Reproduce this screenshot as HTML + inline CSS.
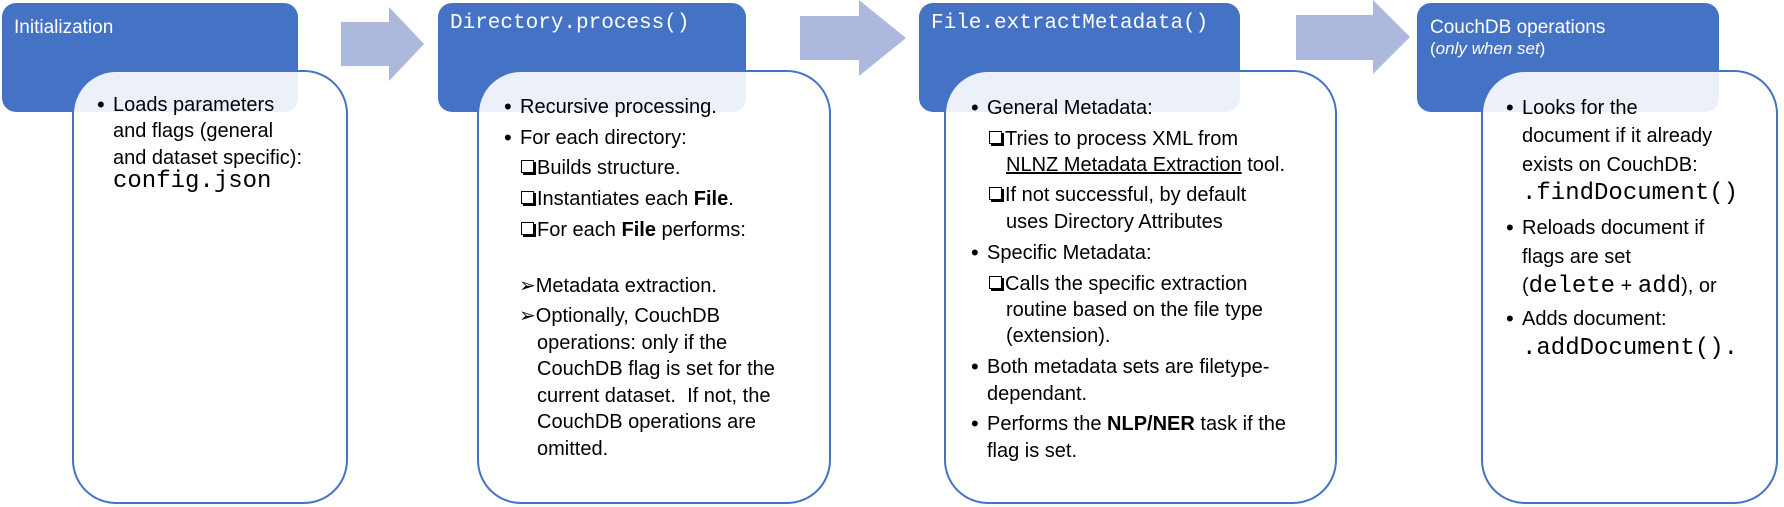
<!DOCTYPE html>
<html><head><meta charset="utf-8"><style>
body{margin:0;width:1784px;height:507px;background:#fff;position:relative;overflow:hidden;font-family:"Liberation Sans",sans-serif;}
.hd{position:absolute;top:3px;height:109px;background:#4472c4;border-radius:14px;}
.ht{position:absolute;color:#fff;font-size:18px;white-space:nowrap;}
.mono{font-family:"Liberation Mono",monospace;}
.ht.mono{font-size:21px;}
.l.mono,.l .mono{font-size:24px;}
.bx{position:absolute;top:70px;height:430px;border:2px solid #4472c4;border-radius:44px;background:rgba(255,255,255,0.9);}
.l{position:absolute;font-size:20px;line-height:24px;white-space:nowrap;color:#000;}
.b{position:absolute;font-size:22px;line-height:24px;}
.cb{display:inline-block;width:11px;height:11px;border:1.5px solid #000;box-shadow:2px 2px 0 #000;margin-right:3px;vertical-align:1px;}
svg{position:absolute;left:0;top:0}
</style></head><body>
<svg width="1784" height="507">
<polygon points="341,22 389,22 389,7 424,44 389,81 389,66 341,66" fill="#adb9dc"/>
<polygon points="800,16 859,16 859,0 906,38 859,76 859,60 800,60" fill="#adb9dc"/>
<polygon points="1296,15 1373,15 1373,0 1410,37 1373,74 1373,60 1296,60" fill="#adb9dc"/>
</svg>

<div class="hd" style="left:2px;width:296px"></div>
<div class="ht" style="left:14px;top:17px;font-size:19px">Initialization</div>
<div class="hd" style="left:438px;width:308px"></div>
<div class="ht mono" style="left:450px;top:12px">Directory.process()</div>
<div class="hd" style="left:919px;width:321px"></div>
<div class="ht mono" style="left:931px;top:12px">File.extractMetadata()</div>
<div class="hd" style="left:1417px;width:302px"></div>
<div class="ht" style="left:1430px;top:17px;font-size:19px;line-height:21px">CouchDB operations<br><span style="font-size:17px">(<i>only when set</i>)</span></div>

<div class="bx" style="left:72px;width:272px"></div>
<div class="bx" style="left:477px;width:350px"></div>
<div class="bx" style="left:944px;width:389px"></div>
<div class="bx" style="left:1481px;width:293px"></div>

<!-- block1 -->
<div class="b" style="left:97px;top:93px">•</div>
<div class="l" style="left:113px;top:93px">Loads parameters</div>
<div class="l" style="left:113px;top:119px">and flags (general</div>
<div class="l" style="left:113px;top:146px">and dataset specific):</div>
<div class="l mono" style="left:113px;top:170px">config.json</div>

<!-- block2 -->
<div class="b" style="left:504px;top:95px">•</div>
<div class="l" style="left:520px;top:95px">Recursive processing.</div>
<div class="b" style="left:504px;top:126px">•</div>
<div class="l" style="left:520px;top:126px">For each directory:</div>
<div class="l" style="left:521px;top:156px"><span class="cb"></span>Builds structure.</div>
<div class="l" style="left:521px;top:187px"><span class="cb"></span>Instantiates each <b>File</b>.</div>
<div class="l" style="left:521px;top:218px"><span class="cb"></span>For each <b>File</b> performs:</div>
<div class="l" style="left:519px;top:274px">➢Metadata extraction.</div>
<div class="l" style="left:519px;top:304px">➢Optionally, CouchDB</div>
<div class="l" style="left:537px;top:331px">operations: only if the</div>
<div class="l" style="left:537px;top:357px">CouchDB flag is set for the</div>
<div class="l" style="left:537px;top:384px">current dataset.&nbsp; If not, the</div>
<div class="l" style="left:537px;top:410px">CouchDB operations are</div>
<div class="l" style="left:537px;top:437px">omitted.</div>

<!-- block3 -->
<div class="b" style="left:971px;top:96px">•</div>
<div class="l" style="left:987px;top:96px">General Metadata:</div>
<div class="l" style="left:989px;top:127px"><span class="cb"></span>Tries to process XML from</div>
<div class="l" style="left:1006px;top:153px"><u>NLNZ Metadata Extraction</u> tool.</div>
<div class="l" style="left:989px;top:183px"><span class="cb"></span>If not successful, by default</div>
<div class="l" style="left:1006px;top:210px">uses Directory Attributes</div>
<div class="b" style="left:971px;top:241px">•</div>
<div class="l" style="left:987px;top:241px">Specific Metadata:</div>
<div class="l" style="left:989px;top:272px"><span class="cb"></span>Calls the specific extraction</div>
<div class="l" style="left:1006px;top:298px">routine based on the file type</div>
<div class="l" style="left:1006px;top:324px">(extension).</div>
<div class="b" style="left:971px;top:355px">•</div>
<div class="l" style="left:987px;top:355px">Both metadata sets are filetype-</div>
<div class="l" style="left:987px;top:382px">dependant.</div>
<div class="b" style="left:971px;top:412px">•</div>
<div class="l" style="left:987px;top:412px">Performs the <b>NLP/NER</b> task if the</div>
<div class="l" style="left:987px;top:439px">flag is set.</div>

<!-- block4 -->
<div class="b" style="left:1506px;top:96px">•</div>
<div class="l" style="left:1522px;top:96px">Looks for the</div>
<div class="l" style="left:1522px;top:124px">document if it already</div>
<div class="l" style="left:1522px;top:153px">exists on CouchDB:</div>
<div class="l mono" style="left:1522px;top:182px">.findDocument()</div>
<div class="b" style="left:1506px;top:216px">•</div>
<div class="l" style="left:1522px;top:216px">Reloads document if</div>
<div class="l" style="left:1522px;top:245px">flags are set</div>
<div class="l" style="left:1522px;top:274px">(<span class="mono">delete</span> + <span class="mono">add</span>), or</div>
<div class="b" style="left:1506px;top:307px">•</div>
<div class="l" style="left:1522px;top:307px">Adds document:</div>
<div class="l mono" style="left:1522px;top:337px">.addDocument().</div>
</body></html>
